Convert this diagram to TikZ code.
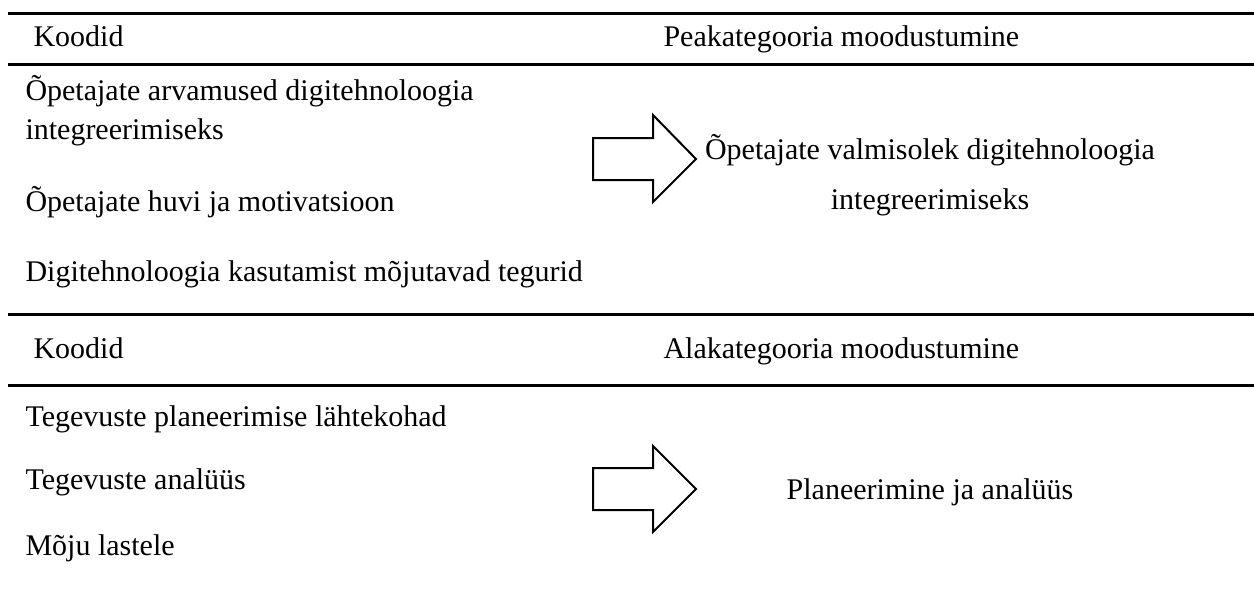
\documentclass[tikz,border=0pt]{standalone}
\usepackage{fontspec}
\setmainfont{Liberation Serif}
\begin{document}
\begin{tikzpicture}
[x=0.4pt,y=-0.4pt,rule/.style={line width=1.2pt},txt/.style={anchor=base west,inner sep=0pt,font=\fontsize{12}{14}\selectfont},fat/.style={draw,line width=0.8pt,line join=miter}]

%Frame of the picture
\useasboundingbox (0,0) rectangle (1254,602);

%Table rules
\coordinate (r1a) at (8,13);   \coordinate (r1b) at (1254,13);
\coordinate (r2a) at (8,64);   \coordinate (r2b) at (1254,64);
\coordinate (r3a) at (8,314);  \coordinate (r3b) at (1254,314);
\coordinate (r4a) at (8,385);  \coordinate (r4b) at (1254,385);
\draw[rule] (r1a) -- (r1b);
\draw[rule] (r2a) -- (r2b);
\draw[rule] (r3a) -- (r3b);
\draw[rule] (r4a) -- (r4b);

%Upper block
\node (k1) at (33,46)[txt] {Koodid};
\node (p1) at (663,46)[txt] {Peakategooria moodustumine};
\node (c1) at (25,100)[txt] {Õpetajate arvamused digitehnoloogia};
\node (c1b) at (25,139)[txt] {integreerimiseks};
\node (c2) at (25,211)[txt] {Õpetajate huvi ja motivatsioon};
\node (c3) at (25,281)[txt] {Digitehnoloogia kasutamist mõjutavad tegurid};
\node (m1) at (930,159)[txt,anchor=base] {Õpetajate valmisolek digitehnoloogia};
\node (m1b) at (930,209)[txt,anchor=base] {integreerimiseks};

%Lower block
\node (k2) at (33,358)[txt] {Koodid};
\node (p2) at (663,358)[txt] {Alakategooria moodustumine};
\node (d1) at (25,426)[txt] {Tegevuste planeerimise lähtekohad};
\node (d2) at (25,489)[txt] {Tegevuste analüüs};
\node (d3) at (25,555)[txt] {Mõju lastele};
\node (m2) at (930,499)[txt,anchor=base] {Planeerimine ja analüüs};

%Block arrows
\draw[fat] (593,138) -- (653,138) -- (653,115) -- (696,159) -- (653,202) -- (653,180) -- (593,180) -- cycle;
\draw[fat] (593,468) -- (653,468) -- (653,446) -- (696,489) -- (653,532) -- (653,510) -- (593,510) -- cycle;
\end{tikzpicture}
\end{document}
